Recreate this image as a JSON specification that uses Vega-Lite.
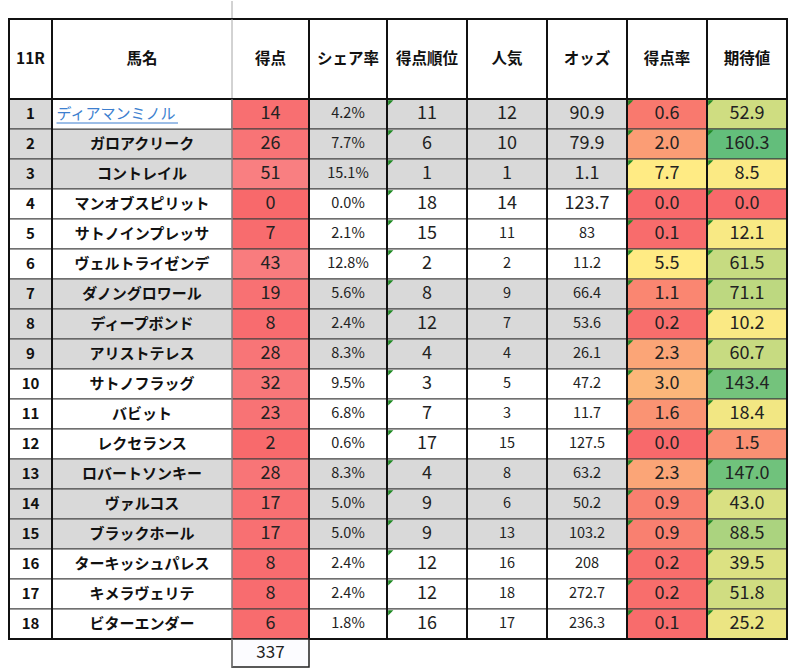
{
  "$schema": "https://vega.github.io/schema/vega-lite/v6.json",
  "background": "white",
  "padding": {"left": 8, "top": 0, "right": 0, "bottom": 0},
  "spacing": 0,
  "bounds": "flush",
  "config": {"view": {"stroke": null}, "font": "Noto Sans CJK JP", "concat": {"spacing": 0}},
  "datasets": {
    "rows": [
      {"no": 1, "name": "ディアマンミノル", "score": 14, "share": 0.042, "rank": 11, "pop": 12, "odds": 90.9, "rate": 0.6, "ev": 52.9},
      {"no": 2, "name": "ガロアクリーク", "score": 26, "share": 0.077, "rank": 6, "pop": 10, "odds": 79.9, "rate": 2.0, "ev": 160.3},
      {"no": 3, "name": "コントレイル", "score": 51, "share": 0.151, "rank": 1, "pop": 1, "odds": 1.1, "rate": 7.7, "ev": 8.5},
      {"no": 4, "name": "マンオブスピリット", "score": 0, "share": 0.0, "rank": 18, "pop": 14, "odds": 123.7, "rate": 0.0, "ev": 0.0},
      {"no": 5, "name": "サトノインプレッサ", "score": 7, "share": 0.021, "rank": 15, "pop": 11, "odds": 83, "rate": 0.1, "ev": 12.1},
      {"no": 6, "name": "ヴェルトライゼンデ", "score": 43, "share": 0.128, "rank": 2, "pop": 2, "odds": 11.2, "rate": 5.5, "ev": 61.5},
      {"no": 7, "name": "ダノングロワール", "score": 19, "share": 0.056, "rank": 8, "pop": 9, "odds": 66.4, "rate": 1.1, "ev": 71.1},
      {"no": 8, "name": "ディープボンド", "score": 8, "share": 0.024, "rank": 12, "pop": 7, "odds": 53.6, "rate": 0.2, "ev": 10.2},
      {"no": 9, "name": "アリストテレス", "score": 28, "share": 0.083, "rank": 4, "pop": 4, "odds": 26.1, "rate": 2.3, "ev": 60.7},
      {"no": 10, "name": "サトノフラッグ", "score": 32, "share": 0.095, "rank": 3, "pop": 5, "odds": 47.2, "rate": 3.0, "ev": 143.4},
      {"no": 11, "name": "バビット", "score": 23, "share": 0.068, "rank": 7, "pop": 3, "odds": 11.7, "rate": 1.6, "ev": 18.4},
      {"no": 12, "name": "レクセランス", "score": 2, "share": 0.006, "rank": 17, "pop": 15, "odds": 127.5, "rate": 0.0, "ev": 1.5},
      {"no": 13, "name": "ロバートソンキー", "score": 28, "share": 0.083, "rank": 4, "pop": 8, "odds": 63.2, "rate": 2.3, "ev": 147.0},
      {"no": 14, "name": "ヴァルコス", "score": 17, "share": 0.05, "rank": 9, "pop": 6, "odds": 50.2, "rate": 0.9, "ev": 43.0},
      {"no": 15, "name": "ブラックホール", "score": 17, "share": 0.05, "rank": 9, "pop": 13, "odds": 103.2, "rate": 0.9, "ev": 88.5},
      {"no": 16, "name": "ターキッシュパレス", "score": 8, "share": 0.024, "rank": 12, "pop": 16, "odds": 208, "rate": 0.2, "ev": 39.5},
      {"no": 17, "name": "キメラヴェリテ", "score": 8, "share": 0.024, "rank": 12, "pop": 18, "odds": 272.7, "rate": 0.2, "ev": 51.8},
      {"no": 18, "name": "ビターエンダー", "score": 6, "share": 0.018, "rank": 16, "pop": 17, "odds": 236.3, "rate": 0.1, "ev": 25.2}
    ]
  },
  "vconcat": [
    {
      "width": 778, "height": 18,
      "data": {"values": [{}]},
      "mark": {"type": "rule", "color": "#a6a6a6", "strokeWidth": 1},
      "encoding": {"x": {"datum": 2, "axis": null, "scale": {"domain": [0,1,2,3,4,5,6,7,8,9], "range": [0,43,223,300,378,458,538,618,698,778], "nice": false, "zero": false}}}
    },
    {
      "width": 778, "height": 80,
      "data": {"values": [{}]},
      "layer": [
        {"mark": {"type": "rect", "fill": "#ffffff", "stroke": "#111111", "strokeWidth": 2},
         "encoding": {"x": {"datum": 0, "axis": null, "scale": {"domain": [0,1,2,3,4,5,6,7,8,9], "range": [0,43,223,300,378,458,538,618,698,778], "nice": false, "zero": false}}, "x2": {"datum": 9}}},
        {"mark": {"type": "rule", "color": "#111111", "strokeWidth": 2}, "encoding": {"x": {"datum": 1}}},
        {"mark": {"type": "rule", "color": "#111111", "strokeWidth": 2}, "encoding": {"x": {"datum": 3}}},
        {"mark": {"type": "rule", "color": "#111111", "strokeWidth": 2}, "encoding": {"x": {"datum": 4}}},
        {"mark": {"type": "rule", "color": "#111111", "strokeWidth": 2}, "encoding": {"x": {"datum": 5}}},
        {"mark": {"type": "rule", "color": "#111111", "strokeWidth": 2}, "encoding": {"x": {"datum": 6}}},
        {"mark": {"type": "rule", "color": "#111111", "strokeWidth": 2}, "encoding": {"x": {"datum": 7}}},
        {"mark": {"type": "rule", "color": "#111111", "strokeWidth": 2}, "encoding": {"x": {"datum": 8}}},
        {"mark": {"type": "rule", "color": "#a6a6a6", "strokeWidth": 1}, "encoding": {"x": {"datum": 2}}},
        {"mark": {"type": "text", "fontWeight": "bold", "fontSize": 15.5, "color": "#111111"}, "encoding": {"x": {"datum": 0.5}, "text": {"value": "11R"}}},
        {"mark": {"type": "text", "fontWeight": "bold", "fontSize": 15.5, "color": "#111111"}, "encoding": {"x": {"datum": 1.5}, "text": {"value": "馬名"}}},
        {"mark": {"type": "text", "fontWeight": "bold", "fontSize": 15.5, "color": "#111111"}, "encoding": {"x": {"datum": 2.5}, "text": {"value": "得点"}}},
        {"mark": {"type": "text", "fontWeight": "bold", "fontSize": 15.5, "color": "#111111"}, "encoding": {"x": {"datum": 3.5}, "text": {"value": "シェア率"}}},
        {"mark": {"type": "text", "fontWeight": "bold", "fontSize": 15.5, "color": "#111111"}, "encoding": {"x": {"datum": 4.5}, "text": {"value": "得点順位"}}},
        {"mark": {"type": "text", "fontWeight": "bold", "fontSize": 15.5, "color": "#111111"}, "encoding": {"x": {"datum": 5.5}, "text": {"value": "人気"}}},
        {"mark": {"type": "text", "fontWeight": "bold", "fontSize": 15.5, "color": "#111111"}, "encoding": {"x": {"datum": 6.5}, "text": {"value": "オッズ"}}},
        {"mark": {"type": "text", "fontWeight": "bold", "fontSize": 15.5, "color": "#111111"}, "encoding": {"x": {"datum": 7.5}, "text": {"value": "得点率"}}},
        {"mark": {"type": "text", "fontWeight": "bold", "fontSize": 15.5, "color": "#111111"}, "encoding": {"x": {"datum": 8.5}, "text": {"value": "期待値"}}}
      ]
    },
    {
      "width": 778, "height": 540,
      "data": {"name": "rows"},
      "resolve": {"scale": {"fill": "independent"}},
      "layer": [
        {"mark": {"type": "rect", "stroke": "#404040", "strokeWidth": 1},
         "encoding": {
           "x": {"datum": 0, "axis": null, "scale": {"domain": [0,1,2,3,4,5,6,7,8,9], "range": [0,43,223,300,378,458,538,618,698,778], "nice": false, "zero": false}},
           "x2": {"datum": 9},
           "y": {"field": "no", "type": "ordinal", "axis": null, "scale": {"paddingInner": 0, "paddingOuter": 0}},
           "fill": {"condition": {"test": "indexof([1,2,3,7,8,9,13,14,15], datum.no) >= 0", "value": "#d9d9d9"}, "value": "#ffffff"}
         }},
        {"transform": [{"filter": "datum.no == 1"}],
         "mark": {"type": "rect", "fill": "#ffffff", "stroke": "#404040", "strokeWidth": 1},
         "encoding": {"x": {"datum": 1}, "x2": {"datum": 2}, "y": {"field": "no", "type": "ordinal"}}},
        {"mark": {"type": "rect", "stroke": "#404040", "strokeWidth": 1},
         "encoding": {"x": {"datum": 2}, "x2": {"datum": 3}, "y": {"field": "no", "type": "ordinal"},
           "fill": {"field": "score", "type": "quantitative", "legend": null, "scale": {"domain": [0, 337], "range": ["#F8696B", "#FCFCFF"], "interpolate": "rgb"}}}},
        {"mark": {"type": "rect", "stroke": "#404040", "strokeWidth": 1},
         "encoding": {"x": {"datum": 7}, "x2": {"datum": 8}, "y": {"field": "no", "type": "ordinal"},
           "fill": {"field": "rate", "type": "quantitative", "legend": null, "scale": {"domain": [0, 5], "range": ["#F8696B", "#FFEB84"], "clamp": true, "interpolate": "rgb"}}}},
        {"mark": {"type": "rect", "stroke": "#404040", "strokeWidth": 1},
         "encoding": {"x": {"datum": 8}, "x2": {"datum": 9}, "y": {"field": "no", "type": "ordinal"},
           "fill": {"field": "ev", "type": "quantitative", "legend": null, "scale": {"domain": [0, 5, 160.3], "range": ["#F8696B", "#FFEB84", "#63BE7B"], "interpolate": "rgb"}}}},
        {"data": {"values": [{}]}, "mark": {"type": "rect", "fill": null, "fillOpacity": 0, "stroke": "#111111", "strokeWidth": 2}, "encoding": {"x": {"datum": 0}, "x2": {"datum": 9}}},
        {"data": {"values": [{}]}, "mark": {"type": "rule", "color": "#111111", "strokeWidth": 2}, "encoding": {"x": {"datum": 1}}},
        {"data": {"values": [{}]}, "mark": {"type": "rule", "color": "#111111", "strokeWidth": 2}, "encoding": {"x": {"datum": 3}}},
        {"data": {"values": [{}]}, "mark": {"type": "rule", "color": "#111111", "strokeWidth": 2}, "encoding": {"x": {"datum": 4}}},
        {"data": {"values": [{}]}, "mark": {"type": "rule", "color": "#111111", "strokeWidth": 2}, "encoding": {"x": {"datum": 5}}},
        {"data": {"values": [{}]}, "mark": {"type": "rule", "color": "#111111", "strokeWidth": 2}, "encoding": {"x": {"datum": 6}}},
        {"data": {"values": [{}]}, "mark": {"type": "rule", "color": "#111111", "strokeWidth": 2}, "encoding": {"x": {"datum": 7}}},
        {"data": {"values": [{}]}, "mark": {"type": "rule", "color": "#111111", "strokeWidth": 2}, "encoding": {"x": {"datum": 8}}},
        {"mark": {"type": "text", "fontWeight": "bold", "fontSize": 15, "color": "#111111"},
         "encoding": {"x": {"datum": 0.5}, "y": {"field": "no", "type": "ordinal"}, "text": {"field": "no", "type": "nominal"}}},
        {"transform": [{"filter": "datum.no != 1"}],
         "mark": {"type": "text", "fontWeight": "bold", "fontSize": 15, "color": "#111111"},
         "encoding": {"x": {"datum": 1.5}, "y": {"field": "no", "type": "ordinal"}, "text": {"field": "name", "type": "nominal"}}},
        {"transform": [{"filter": "datum.no == 1"}],
         "mark": {"type": "text", "fontSize": 15, "align": "left", "color": "#3d7fcf"},
         "encoding": {"x": {"datum": 1.025}, "y": {"field": "no", "type": "ordinal"}, "text": {"field": "name", "type": "nominal"}}},
        {"transform": [{"filter": "datum.no == 1"}],
         "mark": {"type": "rule", "color": "#3d7fcf", "strokeWidth": 1},
         "encoding": {"x": {"datum": 1.025}, "x2": {"datum": 1.70}, "y": {"field": "no", "type": "ordinal", "bandPosition": 0.8}}},
        {"mark": {"type": "text", "fontSize": 18, "color": "#222222"},
         "encoding": {"x": {"datum": 2.5}, "y": {"field": "no", "type": "ordinal"}, "text": {"field": "score", "type": "nominal"}}},
        {"mark": {"type": "text", "fontSize": 14.5, "color": "#222222"},
         "encoding": {"x": {"datum": 3.5}, "y": {"field": "no", "type": "ordinal"}, "text": {"field": "share", "type": "quantitative", "format": ".1%"}}},
        {"mark": {"type": "text", "fontSize": 18, "color": "#222222"},
         "encoding": {"x": {"datum": 4.5}, "y": {"field": "no", "type": "ordinal"}, "text": {"field": "rank", "type": "nominal"}}},
        {"mark": {"type": "text", "color": "#222222"},
         "encoding": {"x": {"datum": 5.5}, "y": {"field": "no", "type": "ordinal"}, "text": {"field": "pop", "type": "nominal"},
           "size": {"condition": {"test": "datum.no <= 4", "value": 18}, "value": 14.5}}},
        {"mark": {"type": "text", "color": "#222222"},
         "encoding": {"x": {"datum": 6.5}, "y": {"field": "no", "type": "ordinal"}, "text": {"field": "odds", "type": "nominal"},
           "size": {"condition": {"test": "datum.no <= 4", "value": 18}, "value": 14.5}}},
        {"mark": {"type": "text", "fontSize": 18, "color": "#222222"},
         "encoding": {"x": {"datum": 7.5}, "y": {"field": "no", "type": "ordinal"}, "text": {"field": "rate", "type": "quantitative", "format": ".1f"}}},
        {"mark": {"type": "text", "fontSize": 18, "color": "#222222"},
         "encoding": {"x": {"datum": 8.5}, "y": {"field": "no", "type": "ordinal"}, "text": {"field": "ev", "type": "quantitative", "format": ".1f"}}},
        {"mark": {"type": "point", "shape": "M0.3,0.3L1.6,0.3L0.3,1.6Z", "filled": true, "color": "#1f8a24", "opacity": 1, "size": 64, "strokeWidth": 0},
         "encoding": {"x": {"datum": 4}, "y": {"field": "no", "type": "ordinal", "bandPosition": 0}}},
        {"mark": {"type": "point", "shape": "M0.3,0.3L1.6,0.3L0.3,1.6Z", "filled": true, "color": "#1f8a24", "opacity": 1, "size": 64, "strokeWidth": 0},
         "encoding": {"x": {"datum": 7}, "y": {"field": "no", "type": "ordinal", "bandPosition": 0}}},
        {"mark": {"type": "point", "shape": "M0.3,0.3L1.6,0.3L0.3,1.6Z", "filled": true, "color": "#1f8a24", "opacity": 1, "size": 64, "strokeWidth": 0},
         "encoding": {"x": {"datum": 8}, "y": {"field": "no", "type": "ordinal", "bandPosition": 0}}},
        {"data": {"values": [{}]}, "mark": {"type": "rule", "color": "#a6a6a6", "strokeWidth": 1}, "encoding": {"x": {"datum": 2}}}
      ]
    },
    {
      "width": 778, "height": 28,
      "data": {"values": [{"total": 337}]},
      "layer": [
        {"mark": {"type": "rect", "stroke": "#222222", "strokeWidth": 1.5},
         "encoding": {"x": {"datum": 2, "axis": null, "scale": {"domain": [0,1,2,3,4,5,6,7,8,9], "range": [0,43,223,300,378,458,538,618,698,778], "nice": false, "zero": false}}, "x2": {"datum": 3},
           "fill": {"field": "total", "type": "quantitative", "legend": null, "scale": {"domain": [0, 337], "range": ["#F8696B", "#FCFCFF"], "interpolate": "rgb"}}}},
        {"mark": {"type": "text", "fontSize": 17, "color": "#222222"},
         "encoding": {"x": {"datum": 2.5}, "text": {"field": "total", "type": "nominal"}}},
        {"mark": {"type": "rule", "color": "#a6a6a6", "strokeWidth": 1}, "encoding": {"x": {"datum": 2}}}
      ]
    }
  ]
}
